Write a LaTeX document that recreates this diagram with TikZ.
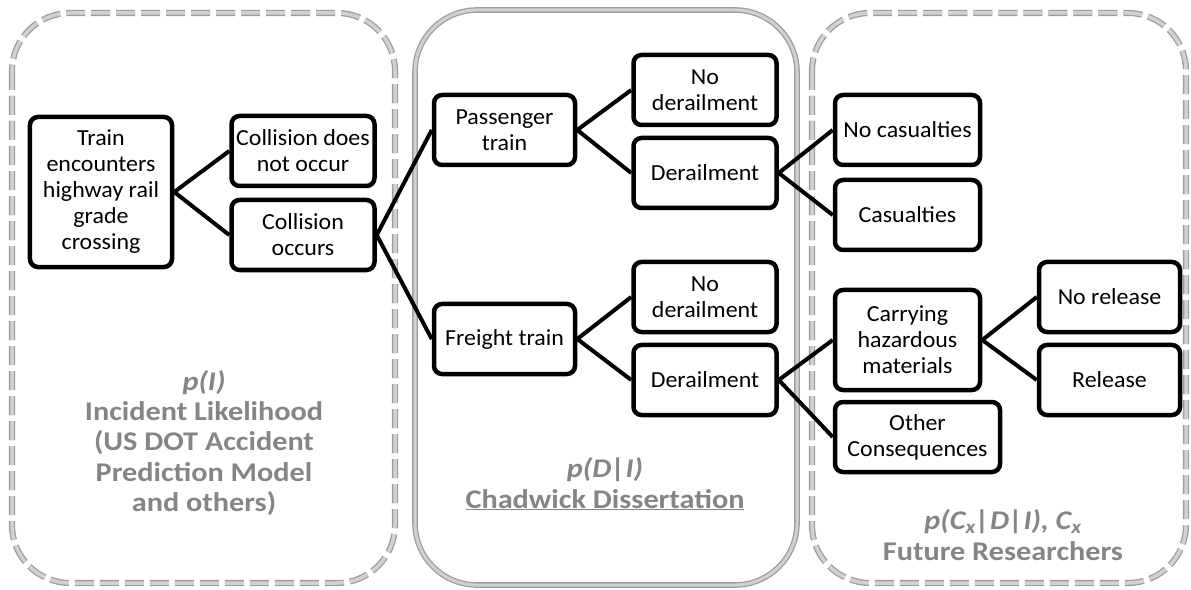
\documentclass[tikz,border=0pt]{standalone}
\usepackage{fontspec}
\setmainfont{Carlito}
\newfontfamily\labelfont[FakeStretch=1.12]{Carlito}
\newfontfamily\boxfont[FakeStretch=1.04]{Carlito}
\definecolor{paneledge}{gray}{0.62}
\definecolor{panelfill}{gray}{0.82}
\definecolor{labelgray}{gray}{0.52}
\begin{document}
\begin{tikzpicture}[x=1bp,y=-1bp,
  box/.style={draw=black, line width=4.5bp, rounded corners=8bp, fill=white,
    minimum width=143bp, minimum height=70bp, align=center, inner sep=2bp,
    font=\boxfont\fontsize{23bp}{26bp}\selectfont},
  link/.style={draw=black, line width=4bp},
  dashpanel/.style={draw=paneledge, line width=1.3bp, double=panelfill, double distance=3.5bp,
    dash pattern=on 19bp off 6bp, rounded corners=58bp},
  solidpanel/.style={draw=paneledge, line width=1.3bp, double=panelfill, double distance=3bp,
    rounded corners=62bp},
  panellabel/.style={text=labelgray, align=center,
    font=\labelfont\fontsize{27bp}{30.3bp}\selectfont\bfseries}
]
\useasboundingbox (0,0) rectangle (1191,590);

% panels
\draw[dashpanel] (12,13) rectangle (395,583);
\draw[solidpanel] (415,10) rectangle (797,585);
\draw[dashpanel] (812,13) rectangle (1186,583);

% panel labels
\node[panellabel] (lblA) at (204,443) {\textit{p(I)}\\Incident Likelihood\\(US DOT Accident\\Prediction Model\\and others)};
\node[panellabel] (lblB) at (605,484) {\textit{p(D|I)}\\\underline{Chadwick Dissertation}};
\node[panellabel] (lblC) at (1003,535) {\textit{p(C\textsubscript{x}|D|I), C\textsubscript{x}}\\Future Researchers};

% boxes
\node[box, minimum width=142bp, minimum height=150bp] (train) at (101,192) {Train\\encounters\\highway rail\\grade\\crossing};
\node[box] (cdno) at (303,151) {Collision does\\not occur};
\node[box] (cocc) at (303,235) {Collision\\occurs};
\node[box, minimum width=141bp] (pass) at (504.5,130) {Passenger\\train};
\node[box] (nod1) at (705,90) {No\\derailment};
\node[box] (der1) at (705,173) {Derailment};
\node[box, minimum width=141bp] (frt) at (504.5,339) {Freight train};
\node[box] (nod2) at (705,297) {No\\derailment};
\node[box] (der2) at (705,380) {Derailment};
\node[box, minimum width=145bp] (nocas) at (907.5,130) {No casualties};
\node[box, minimum width=145bp] (cas) at (907.5,215) {Casualties};
\node[box, minimum width=145bp, minimum height=100bp] (carry) at (907.5,340) {Carrying\\hazardous\\materials};
\node[box, minimum width=165bp] (other) at (917.5,437) {Other\\Consequences};
\node[box, minimum width=141bp] (norel) at (1109.5,297) {No release};
\node[box, minimum width=141bp] (rel) at (1109.5,380) {Release};

% connectors
\draw[link] (train.east) -- (cdno.west);
\draw[link] (train.east) -- (cocc.west);
\draw[link] (cocc.east) -- (pass.west);
\draw[link] (cocc.east) -- (frt.west);
\draw[link] (pass.east) -- (nod1.west);
\draw[link] (pass.east) -- (der1.west);
\draw[link] (frt.east) -- (nod2.west);
\draw[link] (frt.east) -- (der2.west);
\draw[link] (der1.east) -- (nocas.west);
\draw[link] (der1.east) -- (cas.west);
\draw[link] (der2.east) -- (carry.west);
\draw[link] (der2.east) -- (other.west);
\draw[link] (carry.east) -- (norel.west);
\draw[link] (carry.east) -- (rel.west);
\end{tikzpicture}
\end{document}
